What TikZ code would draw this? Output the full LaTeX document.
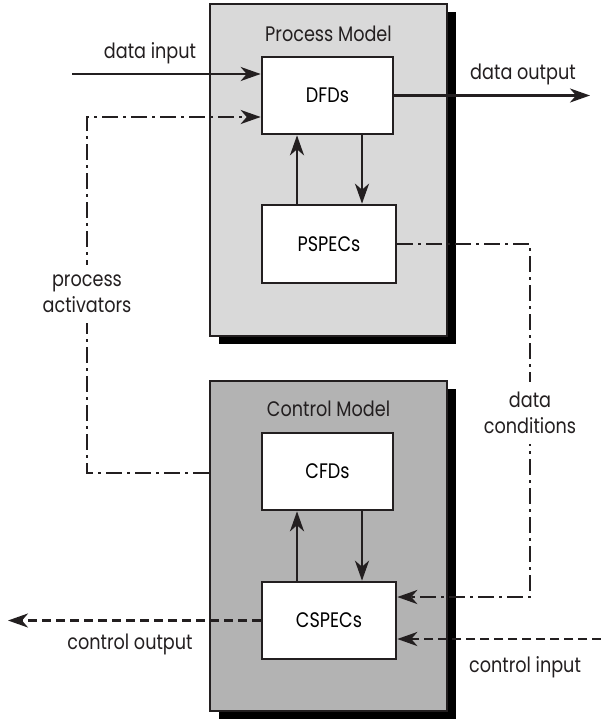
\documentclass[tikz,border=0pt]{standalone}
\usepackage{fontspec}
\setmainfont{Poppins}[FakeStretch=0.84]
\usepackage{tikz}
\usetikzlibrary{arrows.meta,calc,positioning,shadows}
\definecolor{modelgray}{HTML}{D9D9D9}
\definecolor{ctrlgray}{HTML}{B3B3B3}
\definecolor{inkblack}{HTML}{231F20}
\tikzset{
  modelbox/.style={draw=inkblack, line width=2.6pt, rectangle, inner sep=0pt,
    drop shadow={shadow xshift=9pt, shadow yshift=-8pt, fill=black, opacity=1}},
  specbox/.style={draw=inkblack, fill=white, line width=2.6pt, rectangle, inner sep=0pt, font=\fontsize{21}{26}\selectfont},
  titletext/.style={font=\fontsize{21}{26}\selectfont, inkblack, anchor=base},
  labeltext/.style={font=\fontsize{21}{26}\selectfont, inkblack, align=center},
  gaplabel/.style={labeltext, fill=white, inner xsep=2pt, inner ysep=10pt},
  flowline/.style={inkblack, line width=2.5pt, -{Stealth[length=20pt, width=14pt, inset=6pt]}},
  dashdotline/.style={inkblack, line width=2.5pt, dash pattern=on 16pt off 5pt on 3pt off 5pt},
  dashdotflow/.style={dashdotline, -{Stealth[length=20pt, width=14pt, inset=6pt]}},
  dashflow/.style={inkblack, line width=2.5pt, dash pattern=on 9pt off 5pt, -{Stealth[length=20pt, width=14pt, inset=6pt]}}
}
\begin{document}
\begin{tikzpicture}[x=1pt, y=-1pt]
  \useasboundingbox (0,0) rectangle (601,720);
  % the two models
  \node[modelbox, fill=modelgray, minimum width=237pt, minimum height=332pt] (procM) at (328.5,170) {};
  \node[modelbox, fill=ctrlgray, minimum width=237pt, minimum height=330pt] (ctrlM) at (328.5,546) {};
  \node[titletext] (procT) at (328.5,41) {Process Model};
  \node[titletext] (ctrlT) at (328.5,416) {Control Model};
  % inner boxes
  \node[specbox, minimum width=131pt, minimum height=77pt] (dfd) at (327.5,95.5) {DFDs};
  \node[specbox, minimum width=134pt, minimum height=78pt] (pspec) at (329,244) {PSPECs};
  \node[specbox, minimum width=131pt, minimum height=77pt] (cfd) at (327.5,471.5) {CFDs};
  \node[specbox, minimum width=134pt, minimum height=77pt] (cspec) at (329,620.5) {CSPECs};
  % arrows inside the models
  \draw[flowline] ([xshift=-32pt]pspec.north) -- ([xshift=-32pt]pspec.north |- dfd.south);
  \draw[flowline] ([xshift=33pt]pspec.north |- dfd.south) -- ([xshift=33pt]pspec.north);
  \draw[flowline] ([xshift=-32pt]cspec.north) -- ([xshift=-32pt]cspec.north |- cfd.south);
  \draw[flowline] ([xshift=33pt]cspec.north |- cfd.south) -- ([xshift=33pt]cspec.north);
  % data flows
  \coordinate (dinL) at (72,74);
  \coordinate (doutR) at (590,95.5);
  \draw[flowline] (dinL) -- (dinL -| dfd.west);
  \node[labeltext, anchor=base] (dinT) at (150,58) {data input};
  \draw[flowline] (dfd.east) -- (doutR);
  \node[labeltext, anchor=base] (doutT) at (523,79) {data output};
  % process activators
  \coordinate (actB) at (87,473);
  \coordinate (actT) at (87,117);
  \draw[dashdotflow] (actB -| ctrlM.west) -- (actB) -- (actT) -- (actT -| dfd.west);
  \node[gaplabel] (actL) at (87,294) {process\\activators};
  % data conditions
  \coordinate (condT) at (530,244);
  \coordinate (condB) at (530,597);
  \draw[dashdotflow] (pspec.east) -- (condT) -- (condB) -- (condB -| cspec.east);
  \node[gaplabel] (condL) at (530,413) {data\\conditions};
  % control flows
  \coordinate (coutL) at (8,620.5);
  \coordinate (cinR) at (601,639);
  \draw[dashflow] (cspec.west) -- (coutL);
  \node[labeltext, anchor=base] (coutT) at (130,649) {control output};
  \draw[dashflow] (cinR) -- (cinR -| cspec.east);
  \node[labeltext, anchor=base] (cinT) at (525,672.5) {control input};
\end{tikzpicture}
\end{document}
